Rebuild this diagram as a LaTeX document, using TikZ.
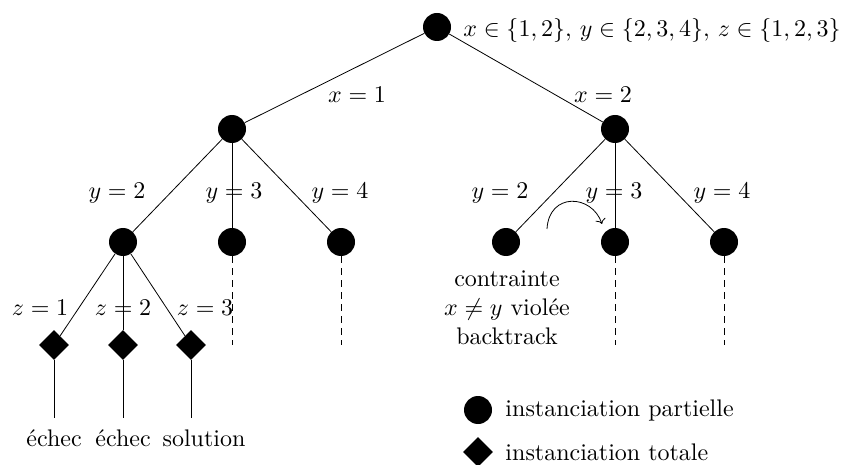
\documentclass[tikz,border=0pt]{standalone}
\usetikzlibrary{shapes.geometric,arrows.meta}
\begin{document}
\begin{tikzpicture}[x=1pt,y=-1pt,
  state/.style={circle,fill=black,minimum size=28pt,inner sep=0pt},
  leaf/.style={diamond,fill=black,minimum size=30pt,inner sep=0pt},
  edge/.style={line width=0.8pt},
  open/.style={line width=0.8pt,dash pattern=on 7pt off 5pt},
  lab/.style={inner sep=0pt,font=\fontsize{10}{12}\selectfont,scale=2.4}]
\useasboundingbox (0,0) rectangle (846,465);

% tree nodes
\node[state] (r) at (437,27) {};
\node[state] (a) at (232,129) {};
\node[state] (b) at (615,129) {};
\node[state] (a2) at (123,242) {};
\node[state] (a3) at (232,242) {};
\node[state] (a4) at (341,242) {};
\node[state] (b2) at (506,242) {};
\node[state] (b3) at (615,242) {};
\node[state] (b4) at (724,242) {};
\node[leaf] (z1) at (54,345) {};
\node[leaf] (z2) at (123,345) {};
\node[leaf] (z3) at (191,345) {};

% domain of the variables
\node[lab,anchor=west] (dom) at (463,31) {$x\in\{1,2\},\,y\in\{2,3,4\},\,z\in\{1,2,3\}$};

% branches
\draw[edge] (r) -- (a);
\draw[edge] (r) -- (b);
\foreach \c in {a2,a3,a4} \draw[edge] (a) -- (\c);
\foreach \c in {b2,b3,b4} \draw[edge] (b) -- (\c);
\foreach \c in {z1,z2,z3} \draw[edge] (a2) -- (\c);

% branch labels
\node[lab] (lx1) at (357,95) {$x=1$};
\node[lab] (lx2) at (603,95) {$x=2$};
\node[lab] (la2) at (117,193) {$y=2$};
\node[lab] (la3) at (234,193) {$y=3$};
\node[lab] (la4) at (340,193) {$y=4$};
\node[lab] (lb2) at (500,193) {$y=2$};
\node[lab] (lb3) at (614,193) {$y=3$};
\node[lab] (lb4) at (722,193) {$y=4$};
\node[lab] (lz1) at (40,308) {$z=1$};
\node[lab] (lz2) at (123,308) {$z=2$};
\node[lab] (lz3) at (205,308) {$z=3$};

% unexplored subtrees
\foreach \n in {a3,a4,b3,b4} {
  \coordinate (\n e) at ([yshift=-103pt]\n.center);
  \draw[open] (\n) -- (\n e);
}

% outcomes of the complete assignments
\coordinate (e1) at (54,418);
\coordinate (e2) at (123,418);
\coordinate (e3) at (191,418);
\draw[edge] (z1) -- (e1);
\draw[edge] (z2) -- (e2);
\draw[edge] (z3) -- (e3);
\node[lab] (t1) at (54,438) {échec};
\node[lab] (t2) at (123,438) {échec};
\node[lab] (t3) at (204,438) {solution};

% backtrack on the violated constraint
\node[lab,align=center] (viol) at (507,308) {contrainte\\$x\neq y$ violée\\backtrack};
\coordinate (bs) at (547,229);
\coordinate (bt) at (602,224);
\draw[edge,-{To[length=5pt]}] (bs) .. controls (549,192) and (592,194) .. (bt);

% legend
\node[state] (kc) at (478,410) {};
\node[lab,anchor=west] (kct) at (505,410) {instanciation partielle};
\node[leaf] (kd) at (478,452) {};
\node[lab,anchor=west] (kdt) at (505,452) {instanciation totale};
\end{tikzpicture}
\end{document}
